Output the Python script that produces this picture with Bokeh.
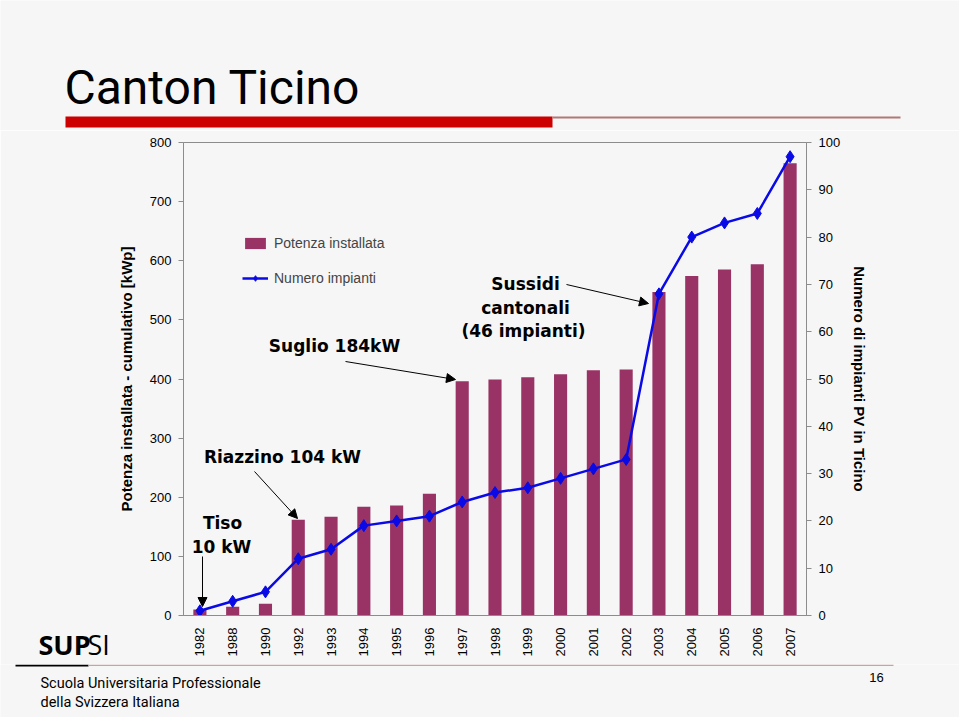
import math
from bokeh.plotting import figure
from bokeh.layouts import column
from bokeh.models import (ColumnDataSource, Range1d, LinearAxis, FixedTicker, Label,
                          Arrow, NormalHead, Legend, LegendItem, FactorRange, BoxAnnotation)
from bokeh.embed import file_html
from bokeh.resources import INLINE

# ---------------- data ----------------
years = ["1982", "1988", "1990", "1992", "1993", "1994", "1995", "1996", "1997", "1998",
         "1999", "2000", "2001", "2002", "2003", "2004", "2005", "2006", "2007"]
potenza_kwp = [10, 15, 20, 162, 167, 184, 186, 206, 396, 399, 403, 408, 415, 416,
               547, 574, 585, 594, 765]
numero_impianti = [1, 3, 5, 12, 14, 19, 20, 21, 24, 26, 27, 29, 31, 33, 68, 80, 83, 85, 97]
left_ticks = [0, 100, 200, 300, 400, 500, 600, 700, 800]
right_ticks = [0, 10, 20, 30, 40, 50, 60, 70, 80, 90, 100]

BAR = "#993366"
LINE = "#0a0ae6"
ARIAL = "Liberation Sans"
NARROW = "Roboto"
BOLDF = "DejaVu Sans"
BG = "#f6f6f6"

W = 959
TOP_H, MAIN_H, BOT_H = 130, 534, 53
FL, FB = 183, 615   # frame left / bottom of the chart, in page pixels
Y_BOT = TOP_H + MAIN_H   # page y where the footer strip starts


def no_align(f):
    if "frame_align" in f.properties():
        f.frame_align = False


def blank(h, y0):
    f = figure(width=W, height=h, x_range=Range1d(0, W), y_range=Range1d(y0 + h, y0),
               x_axis_type=None, y_axis_type=None, output_backend="svg",
               toolbar_location=None, min_border=0)
    f.outline_line_color = None
    f.background_fill_color = BG
    f.border_fill_color = BG
    no_align(f)
    return f


def plain_label(fig, text, X, Y, size, font=ARIAL, style="normal", align="left"):
    fig.add_layout(Label(x=X, y=Y, text=text, text_font=font, text_font_size=size,
                         text_font_style=style, text_align=align, text_baseline="middle",
                         text_color="black"))


def box(fig, l, r, t, b, color):
    fig.add_layout(BoxAnnotation(left=l, right=r, top=t, bottom=b, fill_color=color,
                                 fill_alpha=1, line_color=None))


# ---------------- header ----------------
top = blank(TOP_H, 0)
plain_label(top, "Canton Ticino", 64, 87, "48px", font=NARROW)
box(top, 65, 552, 116, 127, "#cc0000")
box(top, 552, 900, 116, 118, "#b07878")

# ---------------- chart ----------------
src = ColumnDataSource(dict(year=years, kwp=potenza_kwp, n=numero_impianti))

p = figure(width=W, height=MAIN_H, x_range=FactorRange(*years), y_range=Range1d(0, 800),
           output_backend="svg", toolbar_location=None,
           min_border_left=183, min_border_right=153, min_border_top=12,
           min_border_bottom=Y_BOT - FB)
p.background_fill_color = BG
p.border_fill_color = BG
p.outline_line_color = "#8c8c8c"
p.xgrid.visible = False
p.ygrid.visible = False
p.extra_y_ranges = {"n": Range1d(0, 100)}
no_align(p)

bars = p.vbar(x="year", top="kwp", width=0.4, source=src, fill_color=BAR, line_color=None)
ln = p.line(x="year", y="n", source=src, y_range_name="n", line_color=LINE, line_width=2.5)
mk = p.scatter(x="year", y="n", source=src, y_range_name="n", marker="diamond", size=12,
               fill_color=LINE, line_color=LINE)


def style_y(ax, label, standoff):
    ax.axis_label = label
    ax.axis_label_text_font = ARIAL
    ax.axis_label_text_font_style = "bold"
    ax.axis_label_text_font_size = "15px"
    ax.axis_label_text_color = "black"
    ax.axis_label_standoff = standoff
    ax.major_label_text_font = ARIAL
    ax.major_label_text_font_size = "13px"
    ax.major_label_text_color = "black"
    ax.major_label_standoff = 7
    ax.major_tick_out = 5
    ax.major_tick_in = 0
    ax.minor_tick_out = 0
    ax.minor_tick_in = 0
    ax.axis_line_color = "#8c8c8c"
    ax.major_tick_line_color = "#8c8c8c"


ya = p.yaxis[0]
ya.ticker = FixedTicker(ticks=left_ticks)
style_y(ya, "Potenza installata - cumulativo [kWp]", 12)

ra = LinearAxis(y_range_name="n", ticker=FixedTicker(ticks=right_ticks))
style_y(ra, "Numero di impianti PV in Ticino", 8)
p.add_layout(ra, "right")

xa = p.xaxis[0]
xa.major_label_orientation = math.pi / 2
xa.major_label_text_font = ARIAL
xa.major_label_text_font_size = "13px"
xa.major_label_text_color = "black"
xa.major_label_standoff = 12
xa.major_tick_out = 0
xa.major_tick_in = 0
xa.axis_line_color = "#8c8c8c"

legend = Legend(items=[LegendItem(label="Potenza installata", renderers=[bars]),
                       LegendItem(label="Numero impianti", renderers=[ln, mk])],
                location=(59, 327), orientation="vertical")
legend.background_fill_alpha = 0
legend.border_line_color = None
legend.padding = 0
legend.margin = 0
legend.spacing = 15
legend.glyph_width = 26
legend.glyph_height = 14
legend.label_height = 20
legend.label_standoff = 6
legend.label_text_font = ARIAL
legend.label_text_font_size = "14px"
p.add_layout(legend)


def lab(text, X, Y, size="17px", font=BOLDF, style="bold", align="center"):
    p.add_layout(Label(x=X - FL, y=FB - Y, x_units="screen", y_units="screen", text=text,
                       text_font=font, text_font_size=size, text_font_style=style,
                       text_align=align, text_baseline="middle", text_color="black"))


def arrow(X0, Y0, X1, Y1):
    p.add_layout(Arrow(x_start=X0 - FL, y_start=FB - Y0, x_end=X1 - FL, y_end=FB - Y1,
                       start_units="screen", end_units="screen",
                       end=NormalHead(size=9, fill_color="black", line_color="black"),
                       line_color="black", line_width=1))


lab("Suglio 184kW", 334, 345)
arrow(345, 361, 455, 379)
lab("Sussidi", 525, 283)
lab("cantonali", 525, 307)
lab("(46 impianti)", 523, 330)
arrow(566, 284, 648, 303)
lab("Riazzino 104 kW", 282, 456)
arrow(254, 471, 297, 518)
lab("Tiso", 222, 522)
lab("10 kW", 221, 546)
arrow(202, 556, 202, 606)

# logo word, in left side panels (below the frame's bottom)
p.add_layout(Label(x=-24, y=-29, x_units="screen", y_units="screen", text="SUP",
                   text_font="Open Sans", text_font_size="27px", text_font_style="bold",
                   text_align="left", text_baseline="middle", text_color="black"), "left")
p.add_layout(Label(x=47, y=-29, x_units="screen", y_units="screen", text="SI",
                   text_font="Open Sans", text_font_size="27px", text_font_style="normal",
                   text_align="left", text_baseline="middle", text_color="black"), "left")

# ---------------- footer ----------------
bot = blank(BOT_H, Y_BOT)
box(bot, 15, 88, Y_BOT, Y_BOT + 2, "black")
box(bot, 88, 893, Y_BOT, Y_BOT + 1.5, "#c9a3a3")
plain_label(bot, "Scuola Universitaria Professionale", 40, 683, "14.5px", font=NARROW)
plain_label(bot, "della Svizzera Italiana", 40, 702, "14.5px", font=NARROW)
plain_label(bot, "16", 876, 677, "13px", align="center")

page = column(top, p, bot, spacing=0)
open("out.html", "w").write(file_html(page, INLINE))
